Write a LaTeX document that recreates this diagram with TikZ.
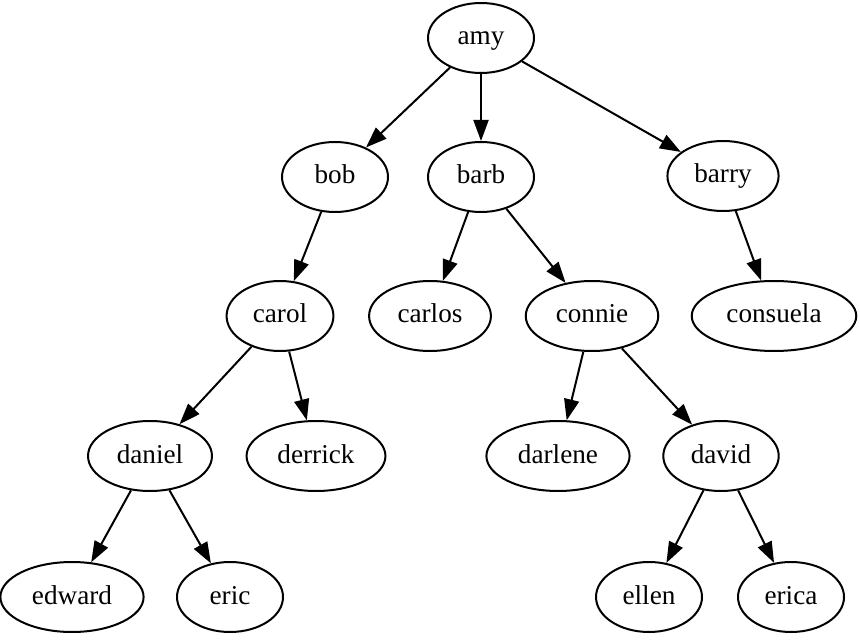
\documentclass[tikz,border=0pt]{standalone}
\usepackage{fontspec}
\setmainfont{Liberation Serif}
\usepackage{tikz}
\usetikzlibrary{shapes.geometric}
\usetikzlibrary{arrows.meta}
\tikzset{
  Knoten/.style={draw,ellipse,line width=1pt,minimum width=53pt,minimum height=35pt,
    inner xsep=5.3pt,inner ysep=2pt,text height=0.8em,text depth=0.1em}, % für Namen
  Kante/.style={line width=1pt,-{Triangle[length=10.5pt,width=7.5pt]}} % für Pfeile
}

\begin{document}
\begin{tikzpicture}[
x=0.5pt,y=-0.5pt, % Pixel des Bildes
font=\fontsize{13.6pt}{16pt}\selectfont
]
\useasboundingbox (0,0) rectangle (860,640);

%Knoten
\node[Knoten] (amy) at (481,38) {amy};

\node[Knoten] (bob) at (335,177) {bob};
\node[Knoten] (barb) at (481,177) {barb};
\node[Knoten] (barry) at (723,176) {barry};

\node[Knoten] (carol) at (280,316) {carol};
\node[Knoten] (carlos) at (430,316) {carlos};
\node[Knoten] (connie) at (592,316) {connie};
\node[Knoten] (consuela) at (774,316) {consuela};

\node[Knoten] (daniel) at (150,456) {daniel};
\node[Knoten] (derrick) at (316,456) {derrick};
\node[Knoten] (darlene) at (558,456) {darlene};
\node[Knoten] (david) at (721,456) {david};

\node[Knoten] (edward) at (72,597) {edward};
\node[Knoten] (eric) at (230,597) {eric};
\node[Knoten] (ellen) at (649,597) {ellen};
\node[Knoten] (erica) at (791,597) {erica};

%Kanten
\draw[Kante] (amy) -- (bob);
\draw[Kante] (amy) -- (barb);
\draw[Kante] (amy) -- (barry);

\draw[Kante] (bob) -- (carol);
\draw[Kante] (barb) -- (carlos);
\draw[Kante] (barb) -- (connie);
\draw[Kante] (barry) -- (consuela);

\draw[Kante] (carol) -- (daniel);
\draw[Kante] (carol) -- (derrick);
\draw[Kante] (connie) -- (darlene);
\draw[Kante] (connie) -- (david);

\draw[Kante] (daniel) -- (edward);
\draw[Kante] (daniel) -- (eric);
\draw[Kante] (david) -- (ellen);
\draw[Kante] (david) -- (erica);

\end{tikzpicture}
\end{document}
